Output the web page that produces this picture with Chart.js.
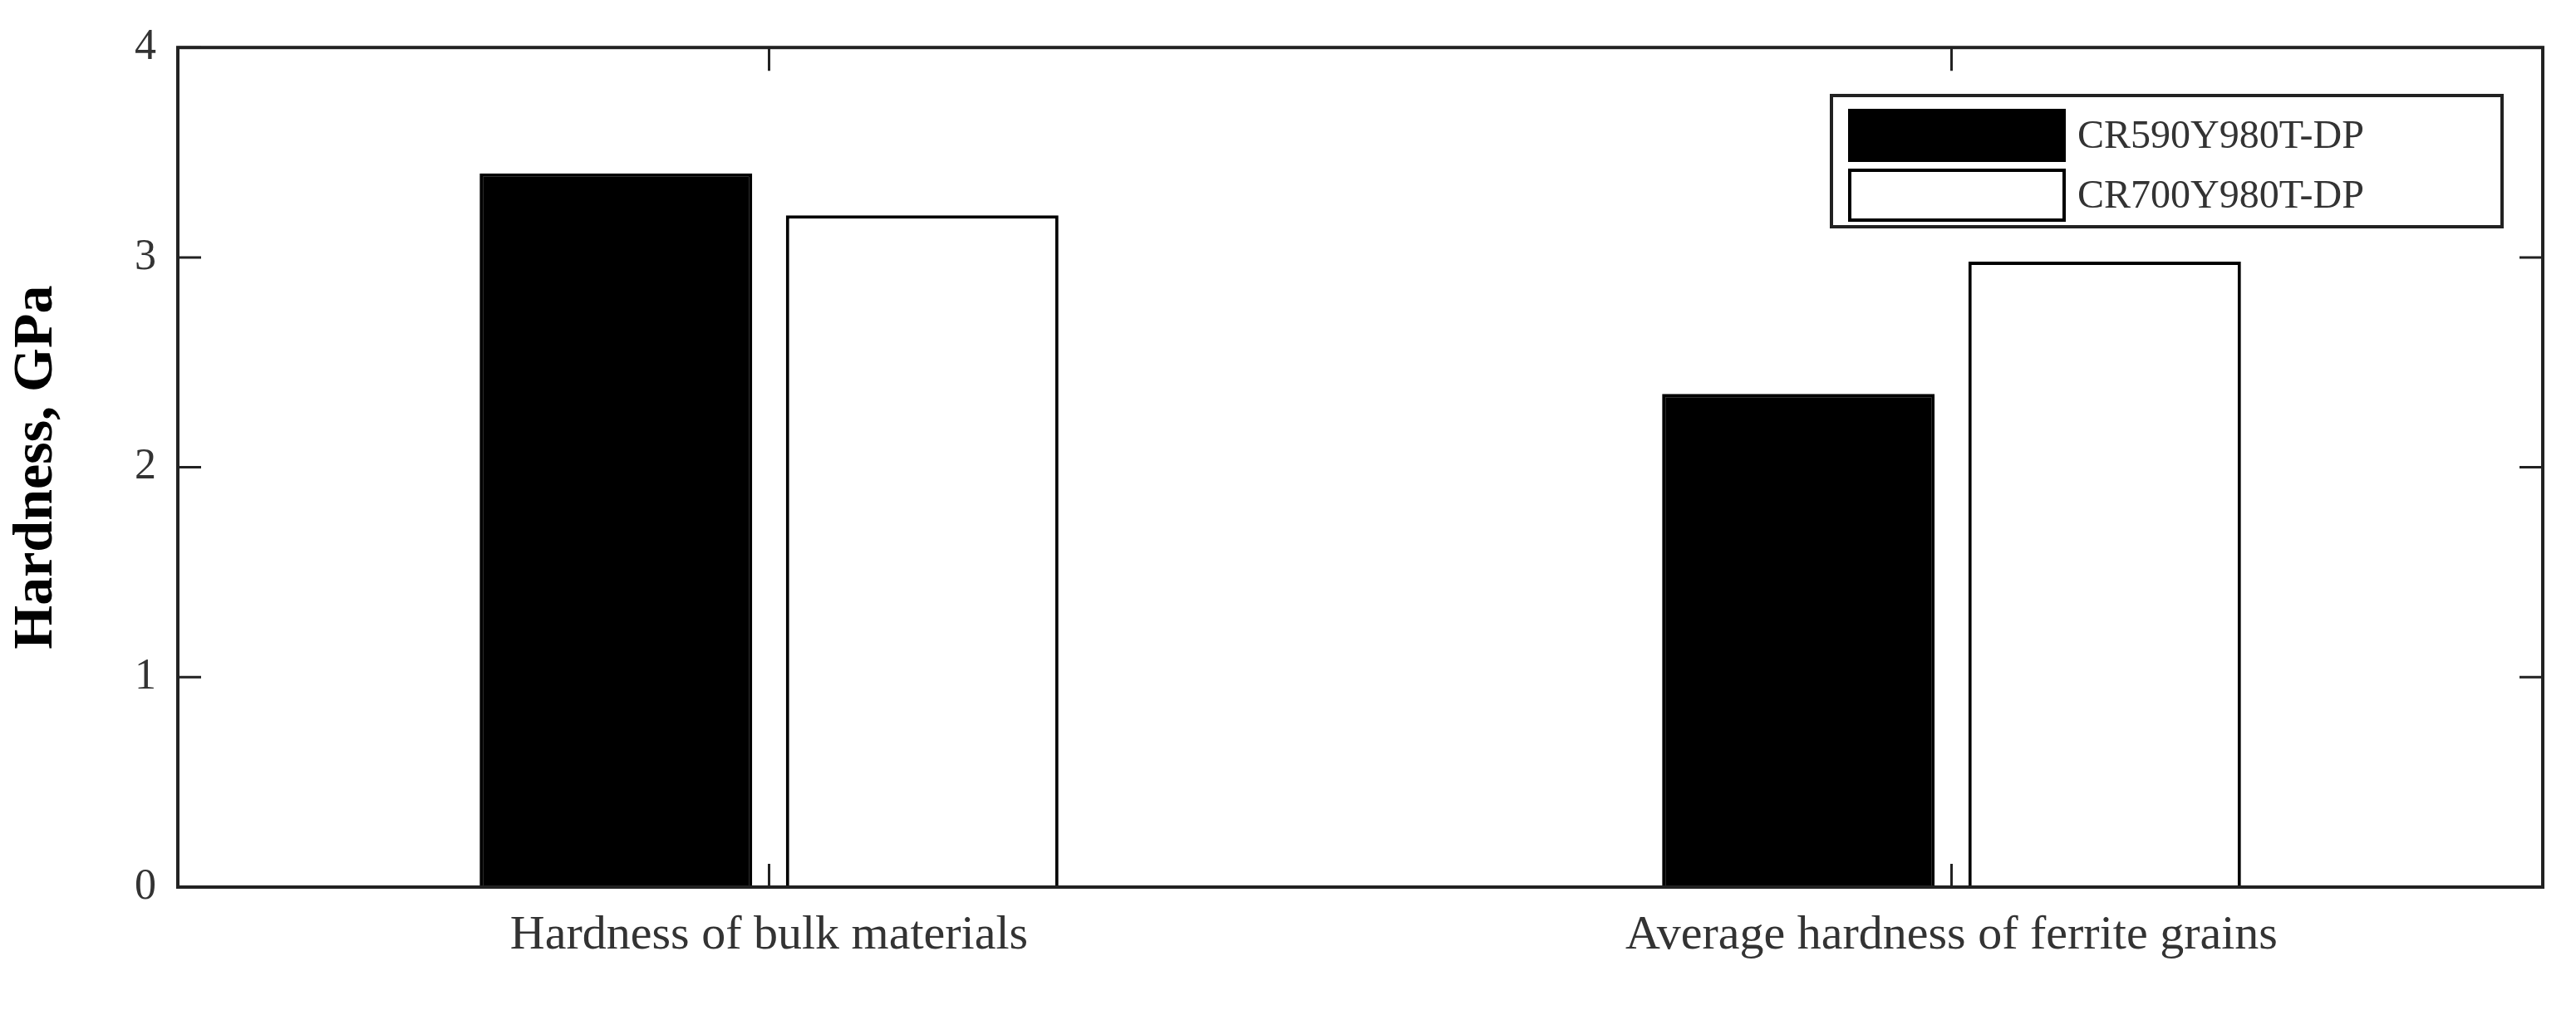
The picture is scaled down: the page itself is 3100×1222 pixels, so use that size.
<!DOCTYPE html>
<html>
<head>
<script src="https://cdn.jsdelivr.net/npm/chart.js@4"></script>
<style>body{margin:0;background:#fff}</style>
</head>
<body>
<canvas id="c" width="3100" height="1222" style="width:3100px;height:1222px"></canvas>
<script>
const categories = ['Hardness of bulk materials', 'Average hardness of ferrite grains'];
const cr590 = [3.4, 2.35];
const cr700 = [3.2, 2.98];
const yTicks = [0, 1, 2, 3, 4];

const frame = {
  id: 'frame',
  afterDraw(chart) {
    const {ctx, chartArea: a, scales} = chart;
    ctx.save();
    ctx.strokeStyle = '#222';
    ctx.lineWidth = 4;
    ctx.strokeRect(a.left, a.top, a.right - a.left, a.bottom - a.top);
    ctx.lineWidth = 3;
    yTicks.forEach(v => {
      const y = scales.y.getPixelForValue(v);
      ctx.beginPath();
      ctx.moveTo(a.left, y); ctx.lineTo(a.left + 28, y);
      ctx.moveTo(a.right, y); ctx.lineTo(a.right - 28, y);
      ctx.stroke();
    });
    categories.forEach((c, i) => {
      const x = scales.x.getPixelForValue(i);
      ctx.beginPath();
      ctx.moveTo(x, a.top); ctx.lineTo(x, a.top + 28);
      ctx.moveTo(x, a.bottom); ctx.lineTo(x, a.bottom - 28);
      ctx.stroke();
    });
    // legend
    const lx = 2204, ly = 115, lw = 807, lh = 158;
    ctx.fillStyle = '#fff';
    ctx.fillRect(lx, ly, lw, lh);
    ctx.lineWidth = 4;
    ctx.strokeRect(lx, ly, lw, lh);
    chart.data.datasets.forEach((d, i) => {
      const by = ly + 18 + i * 72;
      ctx.fillStyle = d.backgroundColor;
      ctx.fillRect(lx + 22, by, 258, 60);
      ctx.lineWidth = 4;
      ctx.strokeStyle = '#000';
      ctx.strokeRect(lx + 22, by, 258, 60);
      ctx.fillStyle = '#333';
      ctx.font = '48px "Liberation Serif"';
      ctx.textBaseline = 'middle';
      ctx.fillText(d.label, lx + 296, by + 32);
    });
    ctx.restore();
  }
};

new Chart(document.getElementById('c'), {
  type: 'bar',
  data: {
    labels: categories,
    datasets: [
      { label: 'CR590Y980T-DP', data: cr590, backgroundColor: '#000', borderColor: '#000', borderWidth: 4 },
      { label: 'CR700Y980T-DP', data: cr700, backgroundColor: '#fff', borderColor: '#000', borderWidth: 4 }
    ]
  },
  options: {
    responsive: false,
    animation: false,
    devicePixelRatio: 1,
    layout: { padding: { top: 49, right: 40, left: 0, bottom: 0 } },
    categoryPercentage: 0.518,
    barPercentage: 0.89,
    plugins: { legend: { display: false }, tooltip: { enabled: false } },
    scales: {
      x: {
        grid: { display: false, drawTicks: false },
        border: { display: false },
        ticks: { color: '#333', font: { family: 'Liberation Serif', size: 58 }, padding: 24 },
        afterFit(s) { s.height = 154; }
      },
      y: {
        min: 0, max: 4,
        afterBuildTicks(s) { s.ticks = yTicks.map(v => ({ value: v })); },
        grid: { display: false, drawTicks: false },
        border: { display: false },
        ticks: { color: '#333', font: { family: 'Liberation Serif', size: 52 }, padding: 26 },
        title: { display: true, text: 'Hardness, GPa', color: '#000', font: { family: 'Liberation Serif', size: 68, weight: 'bold' } },
        afterFit(s) { s.width = 214; }
      }
    }
  },
  plugins: [frame]
});
</script>
</body>
</html>
